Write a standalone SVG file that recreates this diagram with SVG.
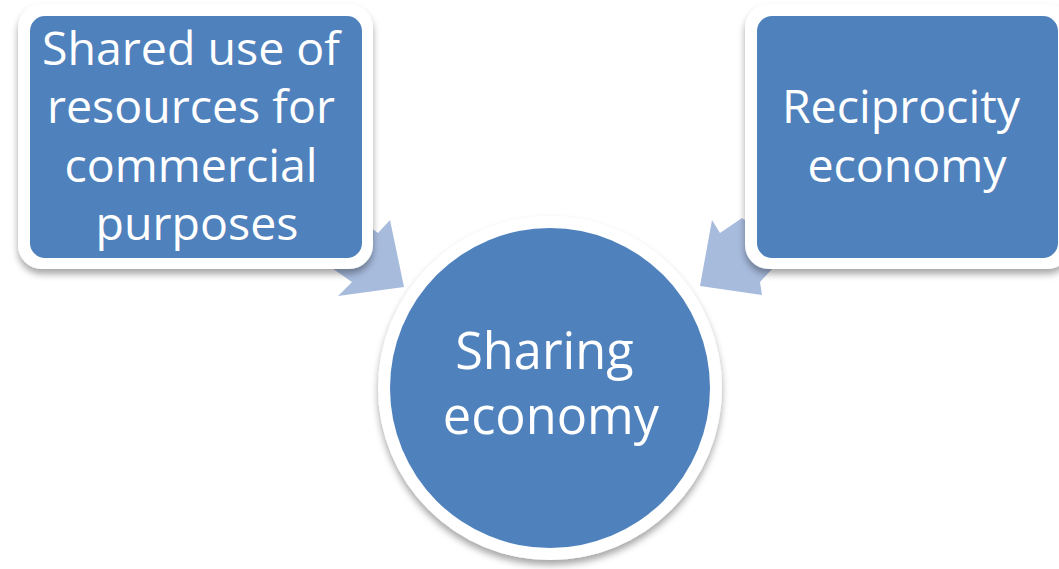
<svg xmlns="http://www.w3.org/2000/svg" width="1059" height="569" viewBox="0 0 1059 569">
  <defs>
    <filter id="sh" x="-10%" y="-10%" width="120%" height="125%">
      <feDropShadow dx="0" dy="5" stdDeviation="3.5" flood-color="#000" flood-opacity="0.35"/>
    </filter>
    <style>
      .frame { fill: #ffffff; filter: url(#sh); }
      .fill { fill: #4f81bd; }
      .arrow { fill: #a7bbdd; }
      .lbl { font-family: "Open Sans", "Liberation Sans", sans-serif; fill: #ffffff; text-anchor: middle; }
    </style>
  </defs>
  <rect width="1059" height="569" fill="#ffffff"/>

  <g id="connectors">
    <polygon class="arrow" points="390,220 404,287 338,296 352,282 300,246 330,198 378,233"/>
    <polygon class="arrow" points="712,220 720,233 742,218 790,250 760,282 762,295 700,286"/>
  </g>

  <g id="node-shared-use">
    <rect class="frame" x="18" y="4" width="355" height="265" rx="24"/>
    <rect class="fill" x="30" y="16" width="332" height="242" rx="15"/>
    <text class="lbl" font-size="46.5">
      <tspan x="197" y="65">Shared use of</tspan>
      <tspan x="197" y="123">resources for</tspan>
      <tspan x="197" y="182">commercial</tspan>
      <tspan x="197" y="240">purposes</tspan>
    </text>
  </g>

  <g id="node-reciprocity">
    <rect class="frame" x="745" y="4" width="326" height="265" rx="24"/>
    <rect class="fill" x="757" y="16" width="301" height="242" rx="15"/>
    <text class="lbl" font-size="46.5">
      <tspan x="907" y="123">Reciprocity</tspan>
      <tspan x="907" y="182">economy</tspan>
    </text>
  </g>

  <g id="node-sharing-economy">
    <circle class="frame" cx="550" cy="388" r="172"/>
    <circle class="fill" cx="550" cy="388" r="160"/>
    <text class="lbl" font-size="50.5">
      <tspan x="551" y="369">Sharing</tspan>
      <tspan x="551" y="434">economy</tspan>
    </text>
  </g>
</svg>
